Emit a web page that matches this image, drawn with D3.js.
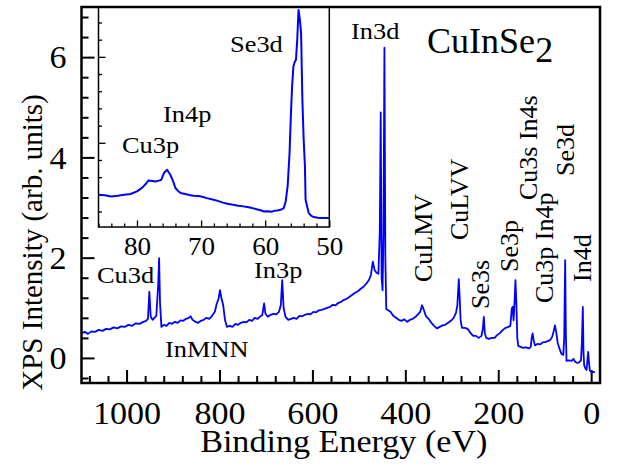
<!DOCTYPE html>
<html>
<head>
<meta charset="utf-8">
<script src="https://cdn.jsdelivr.net/npm/d3@7"></script>
<style>
  html, body { margin: 0; padding: 0; background: #fff; }
  svg text { font-family: "Liberation Serif", "Times New Roman", Times, serif; fill: #000; }
</style>
</head>
<body>
<div id="chart"></div>
<script>
// survey spectrum: binding energy (eV) and intensity (arb. units)
const surveyBE = [
  1097, 1090, 1083, 1076, 1068, 1060, 1052, 1044, 1036, 1028, 1020, 1012, 1004, 996, 988, 980, 972, 964, 958, 954,
  951, 948, 944, 940, 936, 932, 930, 928, 925, 920, 914, 908, 902, 896, 890, 884, 878, 872, 866, 862,
  858, 852, 846, 840, 834, 828, 822, 816, 810, 806, 802, 799, 796, 792, 788, 784, 778, 772, 766, 760,
  754, 748, 742, 736, 730, 724, 718, 712, 708, 704, 701, 696, 690, 684, 678, 672, 668, 665, 662, 658,
  652, 646, 640, 634, 628, 622, 616, 610, 604, 598, 592, 586, 580, 574, 568, 562, 556, 550, 544, 538,
  532, 526, 520, 514, 508, 502, 496, 490, 484, 478, 474, 470, 466, 462, 458, 455, 453, 451, 449, 447,
  445, 443, 441, 437, 432, 426, 420, 414, 408, 402, 396, 390, 384, 378, 372, 368, 364, 361, 356, 350,
  344, 338, 332, 326, 320, 314, 308, 302, 296, 291, 288, 285, 283, 281, 278, 272, 266, 260, 254, 248,
  242, 236, 233, 231, 229, 226, 220, 214, 208, 202, 196, 190, 184, 178, 174, 171, 169, 167, 165, 163,
  161, 159, 157, 152, 146, 140, 134, 130, 128, 126, 124, 121, 116, 110, 104, 98, 92, 88, 84, 80,
  78, 75, 72, 68, 64, 60, 58, 56, 54.5, 53, 48, 42, 38, 34, 30, 26, 22, 20, 18, 16.5,
  15, 12, 10, 8, 6.5, 5, 3, 0, -4, -8
];
const surveyI = [
  0.49, 0.52, 0.48, 0.53, 0.52, 0.56, 0.54, 0.58, 0.57, 0.61, 0.59, 0.63, 0.62, 0.66, 0.64, 0.69, 0.68, 0.72, 0.74, 0.78,
  1.32, 0.82, 0.76, 0.80, 0.84, 1.45, 1.99, 1.10, 0.62, 0.66, 0.64, 0.70, 0.68, 0.72, 0.70, 0.75, 0.74, 0.78, 0.80, 0.83,
  0.76, 0.72, 0.70, 0.74, 0.76, 0.80, 0.78, 0.84, 0.92, 1.08, 1.18, 1.35, 1.20, 1.05, 0.75, 0.62, 0.64, 0.62, 0.68, 0.66,
  0.70, 0.72, 0.71, 0.76, 0.74, 0.80, 0.78, 0.83, 0.85, 1.09, 0.88, 0.82, 0.86, 0.88, 0.87, 0.92, 1.05, 1.55, 1.00, 0.82,
  0.76, 0.78, 0.80, 0.78, 0.84, 0.83, 0.86, 0.88, 0.87, 0.92, 0.91, 0.95, 0.96, 0.98, 1.00, 1.02, 1.06, 1.05, 1.10, 1.12,
  1.16, 1.18, 1.22, 1.26, 1.30, 1.33, 1.38, 1.42, 1.48, 1.56, 1.66, 1.92, 1.75, 1.70, 1.68, 2.50, 4.90, 1.60, 1.35, 2.50,
  6.19, 2.00, 0.97, 0.95, 0.92, 0.84, 0.80, 0.76, 0.74, 0.77, 0.72, 0.76, 0.78, 0.82, 0.88, 0.92, 1.05, 0.98, 0.84, 0.78,
  0.70, 0.64, 0.59, 0.62, 0.65, 0.66, 0.70, 0.74, 0.80, 0.90, 1.05, 1.57, 1.20, 0.75, 0.60, 0.60, 0.58, 0.50, 0.44, 0.44,
  0.40, 0.44, 0.60, 0.82, 0.50, 0.40, 0.38, 0.40, 0.40, 0.46, 0.50, 0.56, 0.60, 0.62, 0.64, 0.98, 1.02, 0.75, 1.10, 1.55,
  1.10, 0.40, 0.24, 0.22, 0.20, 0.21, 0.19, 0.22, 0.40, 0.49, 0.36, 0.25, 0.28, 0.27, 0.31, 0.32, 0.34, 0.36, 0.42, 0.56,
  0.65, 0.50, 0.30, 0.18, 0.08, 0.06, 0.40, 1.95, 0.50, -0.06, -0.05, -0.06, -0.02, -0.08, -0.10, -0.09, -0.05, 0.30, 1.02, 0.10,
  -0.15, -0.22, -0.24, -0.05, 0.12, -0.05, -0.25, -0.28, -0.28, -0.29
];

// inset: shallow core levels, 86 - 50 eV
const insetBE = [
  86, 85, 84, 83, 82, 81, 80, 79.5, 79, 78.5, 78.2, 77.6, 77.1, 76.6, 76.2, 75.8, 75.3, 74.8, 74.4, 74,
  73.6, 73.2, 72.5, 71.8, 71.2, 70.4, 69.8, 69.1, 68.2, 67.4, 66.6, 65.9, 65, 64.2, 63.4, 62.8, 62, 61.2, 60.6, 60.2,
  59.6, 59, 58.6, 58.1, 57.6, 57.1, 56.8, 56.5, 56.2, 56, 55.8, 55.6, 55.4, 55.2, 55, 54.8, 54.6, 54.4, 54.2, 54,
  53.8, 53.7, 53.4, 53.2, 52.8, 52.4, 51.8, 51.2, 50.6, 50
];
const insetI = [
  1.98, 1.95, 1.88, 1.92, 1.97, 2.02, 2.17, 2.30, 2.46, 2.66, 2.81, 2.78, 2.75, 2.80, 2.85, 3.24, 3.43, 3.14, 2.80, 2.37,
  2.20, 2.08, 2.02, 1.96, 1.92, 1.90, 1.86, 1.78, 1.70, 1.62, 1.52, 1.45, 1.40, 1.34, 1.30, 1.26, 1.20, 1.12, 1.06, 1.00,
  1.02, 0.99, 1.04, 1.06, 1.10, 1.20, 1.60, 2.46, 4.40, 6.53, 8.30, 9.44, 9.70, 9.83, 11.0, 12.73, 12.20, 11.38, 7.50, 5.20,
  3.62, 1.69, 1.20, 0.91, 0.75, 0.68, 0.64, 0.62, 0.63, 0.62
];

const xMajor = [1000, 800, 600, 400, 200, 0];
const xMinor = [1080, 1040, 960, 920, 880, 840, 760, 720, 680, 640, 560, 520, 480, 440, 360, 320, 280, 240, 160, 120, 80, 40];
const yMajor = [0, 2, 4, 6];
const yMinor = [-0.4, 0.4, 0.8, 1.2, 1.6, 2.4, 2.8, 3.2, 3.6, 4.4, 4.8, 5.2, 5.6, 6.4, 6.8];
const insetXMajor = [80, 70, 60, 50];
const insetXMinor = [86, 84, 82, 78, 76, 74, 72, 68, 66, 64, 62, 58, 56, 54, 52];
const insetYMajor = [5, 10];
const insetYMinor = [1, 2, 3, 4, 6, 7, 8, 9, 11, 12];

// peak labels
const flatLabels = [
  { t: "In3d", x: 351, y: 39 },
  { t: "Cu3d", x: 97, y: 283 },
  { t: "InMNN", x: 165, y: 357 },
  { t: "In3p", x: 254, y: 278 },
  { t: "Se3d", x: 230, y: 52 },
  { t: "In4p", x: 163, y: 122 },
  { t: "Cu3p", x: 122, y: 153 }
];
const upLabels = [
  { t: "CuLMV", x: 432, y: 282 },
  { t: "CuLVV", x: 468, y: 240 },
  { t: "Se3s", x: 489, y: 309 },
  { t: "Se3p", x: 518, y: 272 },
  { t: "Cu3s In4s", x: 537, y: 200 },
  { t: "Se3d", x: 574, y: 176 },
  { t: "Cu3p In4p", x: 553, y: 303 },
  { t: "In4d", x: 591, y: 282 }
];

const SERIF = '"Liberation Serif", "Times New Roman", Times, serif';
const SX = 1.1; // the original figure is a little stretched sideways
const W = 618, H = 466;
const M = { left: 81.5, right: 600, top: 7, bottom: 383 };
const INS = { left: 98.5, right: 329.3, top: 7, bottom: 227 };

const svg = d3.select("#chart").append("svg")
  .attr("width", W).attr("height", H)
  .attr("font-family", SERIF);

const x = d3.scaleLinear().domain([1097, -19]).range([M.left, M.right]);
const y = d3.scaleLinear().domain([-0.5, 7.0]).range([M.bottom, M.top]);

svg.append("clipPath").attr("id", "clipM").append("rect")
  .attr("x", M.left).attr("y", M.top).attr("width", M.right - M.left).attr("height", M.bottom - M.top);

// ticks pointing inward
function tickAxis(gen, vals, len, labels) {
  return gen.tickValues(vals).tickSizeInner(-len).tickSizeOuter(0)
    .tickPadding(len + 8).tickFormat(labels ? d3.format("d") : "");
}

const gx = svg.append("g").attr("transform", `translate(0,${M.bottom})`);
gx.append("g").call(tickAxis(d3.axisBottom(x), xMinor, 7, false));
gx.append("g").call(tickAxis(d3.axisBottom(x), xMajor, 13, true));
gx.selectAll("text").attr("font-size", 31).attr("y", 41).attr("dy", 0)
  .attr("transform", `scale(${SX},1)`);

const gy = svg.append("g").attr("transform", `translate(${M.left},0)`);
gy.append("g").call(tickAxis(d3.axisLeft(y), yMinor, 7, false));
gy.append("g").call(tickAxis(d3.axisLeft(y), yMajor, 13, true));
gy.selectAll("text").attr("font-size", 31).attr("x", -15 / SX).attr("dy", "0.35em")
  .attr("transform", `scale(${SX},1)`);

svg.selectAll(".domain").remove();
svg.selectAll(".tick line").attr("stroke", "#000").attr("stroke-width", 2);

// survey curve
const line = d3.line().x((d, i) => x(surveyBE[i])).y(d => y(d));
svg.append("path")
  .attr("clip-path", "url(#clipM)")
  .attr("d", line(surveyI))
  .attr("fill", "none").attr("stroke", "#0000ff").attr("stroke-width", 1.8)
  .attr("stroke-linejoin", "round");

// inset
const xi = d3.scaleLinear().domain([86, 50]).range([INS.left, INS.right]);
const yi = d3.scaleLinear().domain([0.1, 12.9]).range([INS.bottom, INS.top]);
const ins = svg.append("g");
ins.append("rect").attr("x", INS.left).attr("y", INS.top)
  .attr("width", INS.right - INS.left).attr("height", INS.bottom - INS.top)
  .attr("fill", "#fff");

const gix = ins.append("g").attr("transform", `translate(0,${INS.bottom})`);
gix.append("g").call(tickAxis(d3.axisBottom(xi), insetXMinor, 3.5, false));
gix.append("g").call(tickAxis(d3.axisBottom(xi), insetXMajor, 6.5, true));
gix.selectAll("text").attr("font-size", 26).attr("y", 28).attr("dy", 0)
  .attr("transform", "scale(1.04,1)");

const giy = ins.append("g").attr("transform", `translate(${INS.left},0)`);
giy.append("g").call(tickAxis(d3.axisLeft(yi), insetYMinor, 3.5, false));
giy.append("g").call(tickAxis(d3.axisLeft(yi), insetYMajor, 7, false));

ins.selectAll(".domain").remove();
ins.selectAll(".tick line").attr("stroke", "#000").attr("stroke-width", 1.3);

const lineIn = d3.line().x((d, i) => xi(insetBE[i])).y(d => yi(d));
ins.append("path")
  .attr("d", lineIn(insetI))
  .attr("fill", "none").attr("stroke", "#0000ff").attr("stroke-width", 2)
  .attr("stroke-linejoin", "round");

ins.append("rect").attr("x", INS.left).attr("y", INS.top)
  .attr("width", INS.right - INS.left).attr("height", INS.bottom - INS.top)
  .attr("fill", "none").attr("stroke", "#000").attr("stroke-width", 1.5);

// main frame
svg.append("rect").attr("x", M.left).attr("y", M.top)
  .attr("width", M.right - M.left).attr("height", M.bottom - M.top)
  .attr("fill", "none").attr("stroke", "#000").attr("stroke-width", 2.5);

// labels
svg.selectAll(".flat").data(flatLabels).join("text")
  .attr("transform", d => `translate(${d.x},${d.y}) scale(${SX},1)`)
  .attr("font-size", 24).text(d => d.t);

svg.selectAll(".up").data(upLabels).join("text")
  .attr("transform", d => `translate(${d.x},${d.y}) rotate(-90)`)
  .attr("font-size", 26).text(d => d.t);

const title = svg.append("text")
  .attr("transform", "translate(427,53) scale(1.03,1)").attr("font-size", 35);
title.append("tspan").text("CuInSe");
title.append("tspan").attr("dy", 9).text("2");

svg.append("text")
  .attr("transform", `translate(${(M.left + M.right) / 2 + 3},452) scale(${SX},1)`)
  .attr("text-anchor", "middle").attr("font-size", 31)
  .text("Binding Energy (eV)");

svg.append("text")
  .attr("transform", `translate(42,${(392 + 93) / 2}) rotate(-90)`)
  .attr("text-anchor", "middle").attr("font-size", 29)
  .text("XPS Intensity (arb. units)");

// axis groups carry their own font-family; use the serif face everywhere
svg.selectAll("g").attr("font-family", null);
svg.selectAll("text").style("font-family", SERIF).attr("fill", "#000");
</script>
</body>
</html>
